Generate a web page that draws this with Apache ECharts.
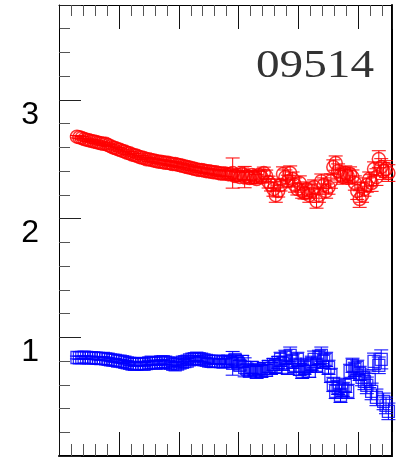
<!DOCTYPE html>
<html>
<head>
<meta charset="utf-8">
<script src="https://cdn.jsdelivr.net/npm/echarts@6/dist/echarts.min.js"></script>
<style>
  html, body { margin: 0; padding: 0; background: #fff; }
  #chart { width: 397px; height: 457px; }
</style>
</head>
<body>
<div id="chart"></div>
<script>
// x in minor-tick units (0 = left frame), y in plot units
const xMax = 27.8;
const yMax = 3.8;
const yTickLabels = ['1', '2', '3'];
const runLabel = '09514';

// shared x positions of both series
const xVals = [1.5, 1.7, 1.9, 2.1, 2.3, 2.5, 2.7, 2.9,
  3.1, 3.3, 3.5, 3.7, 3.9, 4.1, 4.3, 4.5, 4.7, 4.9,
  5.1, 5.3, 5.5, 5.7, 5.9, 6.1, 6.3, 6.5, 6.7, 6.9,
  7.1, 7.3, 7.5, 7.7, 7.9, 8.1, 8.3, 8.5, 8.7, 8.9,
  9.1, 9.3, 9.5, 9.7, 9.9, 10.1, 10.3, 10.5, 10.7, 10.9,
  11.1, 11.3, 11.5, 11.7, 11.9, 12.1, 12.3, 12.5, 12.7, 12.9,
  13.1, 13.3, 13.5, 13.7, 13.9, 14.1,
  14.3, 14.5, 14.7, 14.9, 15.1, 15.3, 15.5, 15.7, 15.9, 16.1,
  16.3, 16.5, 16.7, 16.9, 17.1, 17.3, 17.5, 17.7, 17.9, 18.1,
  18.3, 18.5, 18.7, 18.9, 19.1, 19.3, 19.5, 19.7, 19.9, 20.1,
  20.3, 20.5, 20.7, 20.9, 21.1, 21.3, 21.5, 21.7, 21.9, 22.1,
  22.3, 22.5, 22.7, 22.9, 23.1, 23.3, 23.5, 23.7, 23.9, 24.1,
  24.3, 24.5, 24.7, 24.9, 25.1, 25.3, 25.5, 25.7, 25.9, 26.1,
  26.3, 26.5, 26.7, 26.9, 27.1, 27.3, 27.5];

const yRed = [2.69, 2.685, 2.68, 2.67, 2.665, 2.66, 2.655, 2.65,
  2.645, 2.64, 2.635, 2.63, 2.63, 2.62, 2.61, 2.60, 2.595, 2.585,
  2.58, 2.57, 2.565, 2.555, 2.55, 2.54, 2.535, 2.53, 2.52, 2.515,
  2.51, 2.50, 2.50, 2.495, 2.49, 2.485, 2.48, 2.48, 2.475, 2.47,
  2.47, 2.465, 2.46, 2.46, 2.455, 2.45, 2.445, 2.44, 2.435, 2.43,
  2.425, 2.42, 2.415, 2.41, 2.41, 2.405, 2.40, 2.40, 2.395, 2.39,
  2.39, 2.385, 2.38, 2.38, 2.38, 2.375,
  2.376, 2.384, 2.359, 2.367, 2.350, 2.376, 2.350, 2.359, 2.342, 2.367,
  2.350, 2.333, 2.367, 2.350, 2.384, 2.359, 2.308, 2.283, 2.249, 2.198,
  2.232, 2.283, 2.376, 2.350, 2.316, 2.384, 2.333, 2.283, 2.249, 2.300,
  2.232, 2.215, 2.249, 2.198, 2.232, 2.266, 2.148, 2.198, 2.316, 2.283,
  2.232, 2.266, 2.316, 2.435, 2.468, 2.401, 2.367, 2.350, 2.384, 2.359,
  2.376, 2.350, 2.300, 2.232, 2.165, 2.198, 2.249, 2.283, 2.333, 2.300,
  2.418, 2.350, 2.502, 2.435, 2.401, 2.418, 2.384];
const eRed = [0.01, 0.011, 0.012, 0.01, 0.012, 0.011, 0.012, 0.013,
  0.012, 0.013, 0.012, 0.014, 0.013, 0.012, 0.014, 0.013, 0.015, 0.014,
  0.013, 0.015, 0.014, 0.015, 0.016, 0.014, 0.015, 0.016, 0.015, 0.017,
  0.016, 0.015, 0.017, 0.016, 0.018, 0.017, 0.016, 0.018, 0.017, 0.019,
  0.018, 0.017, 0.019, 0.018, 0.02, 0.019, 0.018, 0.02, 0.019, 0.021,
  0.02, 0.019, 0.021, 0.02, 0.022, 0.021, 0.02, 0.022, 0.021, 0.023,
  0.022, 0.024, 0.023, 0.025, 0.024, 0.026,
  0.04, 0.127, 0.04, 0.04, 0.04, 0.05, 0.09, 0.04, 0.05, 0.04,
  0.05, 0.04, 0.05, 0.05, 0.05, 0.05, 0.05, 0.05, 0.06, 0.06,
  0.05, 0.05, 0.06, 0.06, 0.05, 0.06, 0.06, 0.06, 0.05, 0.06,
  0.06, 0.05, 0.06, 0.06, 0.06, 0.06, 0.06, 0.06, 0.06, 0.06,
  0.06, 0.06, 0.06, 0.06, 0.06, 0.06, 0.06, 0.06, 0.06, 0.06,
  0.06, 0.06, 0.06, 0.07, 0.07, 0.06, 0.06, 0.06, 0.06, 0.07,
  0.06, 0.07, 0.07, 0.07, 0.07, 0.07, 0.07];

const yBlue = [0.83, 0.828, 0.83, 0.832, 0.83, 0.826, 0.828, 0.826,
  0.824, 0.822, 0.82, 0.822, 0.818, 0.815, 0.81, 0.808, 0.805, 0.80,
  0.80, 0.795, 0.79, 0.785, 0.78, 0.775, 0.772, 0.775, 0.78, 0.776,
  0.772, 0.778, 0.785, 0.79, 0.785, 0.78, 0.785, 0.792, 0.795, 0.79,
  0.785, 0.78, 0.772, 0.768, 0.775, 0.782, 0.79, 0.795, 0.80, 0.81,
  0.815, 0.82, 0.825, 0.82, 0.815, 0.81, 0.805, 0.80, 0.798, 0.795,
  0.798, 0.80, 0.795, 0.792, 0.795, 0.80,
  0.797, 0.781, 0.814, 0.789, 0.764, 0.797, 0.747, 0.730, 0.713, 0.747,
  0.722, 0.705, 0.730, 0.713, 0.738, 0.722, 0.755, 0.738, 0.772, 0.755,
  0.789, 0.814, 0.781, 0.831, 0.747, 0.848, 0.797, 0.764, 0.814, 0.730,
  0.713, 0.747, 0.764, 0.713, 0.781, 0.814, 0.764, 0.831, 0.848, 0.797,
  0.814, 0.747, 0.679, 0.603, 0.544, 0.578, 0.511, 0.561, 0.595, 0.544,
  0.713, 0.764, 0.730, 0.747, 0.696, 0.662, 0.629, 0.595, 0.646, 0.544,
  0.797, 0.494, 0.764, 0.814, 0.460, 0.426, 0.376];
const eBlue = [0.012, 0.013, 0.012, 0.011, 0.013, 0.012, 0.014, 0.013,
  0.012, 0.014, 0.013, 0.015, 0.014, 0.013, 0.015, 0.014, 0.016, 0.015,
  0.014, 0.016, 0.015, 0.017, 0.016, 0.015, 0.017, 0.016, 0.018, 0.017,
  0.016, 0.018, 0.017, 0.019, 0.018, 0.017, 0.019, 0.018, 0.02, 0.019,
  0.018, 0.02, 0.019, 0.021, 0.02, 0.019, 0.021, 0.02, 0.022, 0.021,
  0.02, 0.022, 0.021, 0.023, 0.022, 0.021, 0.023, 0.022, 0.024, 0.023,
  0.022, 0.024, 0.023, 0.025, 0.024, 0.026,
  0.04, 0.10, 0.04, 0.04, 0.04, 0.05, 0.08, 0.04, 0.04, 0.05,
  0.04, 0.05, 0.04, 0.05, 0.05, 0.05, 0.05, 0.05, 0.05, 0.06,
  0.05, 0.06, 0.06, 0.06, 0.06, 0.07, 0.06, 0.06, 0.06, 0.05,
  0.06, 0.06, 0.06, 0.05, 0.06, 0.07, 0.06, 0.06, 0.07, 0.06,
  0.06, 0.06, 0.06, 0.06, 0.06, 0.06, 0.06, 0.06, 0.06, 0.06,
  0.06, 0.06, 0.06, 0.06, 0.06, 0.07, 0.07, 0.07, 0.07, 0.07,
  0.07, 0.07, 0.07, 0.08, 0.07, 0.07, 0.07];

const RED = '#ff0000';
const BLUE = '#0000ff';

const toRows = (ys, es) => xVals.map((x, i) => [x, ys[i], es[i]]);
const redRows = toRows(yRed, eRed);
const blueRows = toRows(yBlue, eBlue);

const errorBars = (color) => (params, api) => {
  const x = api.value(0), y = api.value(1), e = api.value(2);
  const hi = api.coord([x, y + e]);
  const lo = api.coord([x, y - e]);
  const hw = 7;
  const st = { stroke: color, lineWidth: 1 };
  return {
    type: 'group',
    children: [
      { type: 'line', shape: { x1: hi[0], y1: hi[1], x2: lo[0], y2: lo[1] }, style: st },
      { type: 'line', shape: { x1: hi[0] - hw, y1: hi[1], x2: hi[0] + hw, y2: hi[1] }, style: st },
      { type: 'line', shape: { x1: lo[0] - hw, y1: lo[1], x2: lo[0] + hw, y2: lo[1] }, style: st }
    ]
  };
};

const gridBox = { left: 59, top: 5, right: 5, bottom: 1 };

const xAx = (grid, position, interval, len, lineW, tickColor) => ({
  type: 'value', gridIndex: grid, position: position,
  min: 0, max: xMax, interval: interval,
  axisLine: { show: lineW > 0, onZero: false, lineStyle: { color: '#000', width: lineW } },
  axisTick: { show: true, inside: true, length: len, lineStyle: { color: tickColor, width: 1 } },
  axisLabel: { show: false },
  splitLine: { show: false }
});

const chart = echarts.init(document.getElementById('chart'), null, { renderer: 'canvas' });

chart.setOption({
  animation: false,
  backgroundColor: '#fff',
  grid: [Object.assign({}, gridBox), Object.assign({}, gridBox)],
  xAxis: [
    xAx(0, 'bottom', 1, 12, 2, '#555'),
    xAx(0, 'top', 1, 11, 1, '#555'),
    xAx(1, 'bottom', 5, 24, 0, '#111'),
    xAx(1, 'top', 5, 24, 0, '#111')
  ],
  yAxis: [
    {
      type: 'value', gridIndex: 0, position: 'left', min: 0, max: yMax, interval: 0.2,
      axisLine: { show: true, onZero: false, lineStyle: { color: '#000', width: 1 } },
      axisTick: { show: true, inside: true, length: 11, lineStyle: { color: '#555', width: 1 } },
      axisLabel: { show: false },
      splitLine: { show: false }
    },
    {
      type: 'value', gridIndex: 0, position: 'right', min: 0, max: yMax,
      axisLine: { show: true, onZero: false, lineStyle: { color: '#000', width: 2 } },
      axisTick: { show: false },
      axisLabel: { show: false },
      splitLine: { show: false }
    },
    {
      type: 'value', gridIndex: 1, position: 'left', min: 0, max: yMax, interval: 1,
      axisLine: { show: false },
      axisTick: { show: true, inside: true, length: 22, lineStyle: { color: '#222', width: 1 } },
      axisLabel: {
        show: true, margin: 20, fontSize: 32, color: '#000',
        fontFamily: '"Liberation Sans", Arial, sans-serif',
        verticalAlign: 'top', lineHeight: 30,
        formatter: (v) => {
          const s = String(Math.round(v));
          return (Math.abs(v - Math.round(v)) < 1e-6 && yTickLabels.indexOf(s) >= 0) ? s : '';
        }
      },
      splitLine: { show: false }
    },
    {
      type: 'value', gridIndex: 1, position: 'right', min: 0, max: yMax, show: false
    }
  ],
  graphic: [{
    type: 'text', x: 374, y: 66, scaleX: 1.18,
    style: {
      text: runLabel, font: '40px "Liberation Serif", serif', fill: '#333',
      textAlign: 'right', textVerticalAlign: 'middle'
    }
  }],
  series: [
    {
      type: 'custom', xAxisIndex: 0, yAxisIndex: 0, data: redRows,
      renderItem: errorBars(RED), encode: { x: 0, y: 1 }, z: 2
    },
    {
      type: 'scatter', xAxisIndex: 0, yAxisIndex: 0, data: redRows,
      symbol: 'circle', symbolSize: 13,
      itemStyle: { color: 'rgba(0,0,0,0)', borderColor: RED, borderWidth: 1.5 }, z: 3
    },
    {
      type: 'custom', xAxisIndex: 0, yAxisIndex: 0, data: blueRows,
      renderItem: errorBars(BLUE), encode: { x: 0, y: 1 }, z: 2
    },
    {
      type: 'scatter', xAxisIndex: 0, yAxisIndex: 0, data: blueRows,
      symbol: 'rect', symbolSize: 12,
      itemStyle: { color: 'rgba(0,0,0,0)', borderColor: BLUE, borderWidth: 1.3 }, z: 3
    }
  ]
});
</script>
</body>
</html>
